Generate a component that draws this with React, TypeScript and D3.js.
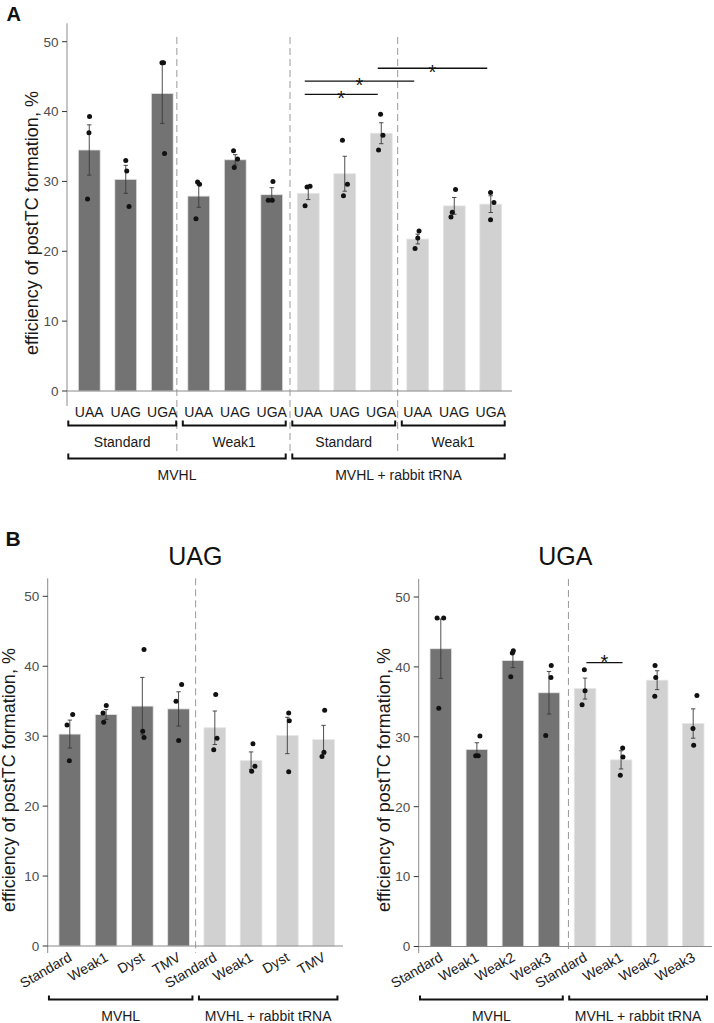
import React from "react";
import * as d3 from "d3";

// ---------------- Panel A data ----------------
const aCodons = ["UAA", "UAG", "UGA", "UAA", "UAG", "UGA", "UAA", "UAG", "UGA", "UAA", "UAG", "UGA"];
const aMeans = [34.5, 30.3, 42.6, 27.9, 33.1, 28.1, 28.3, 31.1, 36.9, 21.75, 26.5, 26.75];
const aSE = [3.6, 2.0, 4.3, 1.6, 0.73, 1.0, 0.9, 2.5, 1.5, 0.7, 1.2, 1.2];
const aPoints = [
  [39.3, 36.95, 27.5], [33.0, 31.5, 26.4], [47.0, 47.0, 34.0],
  [29.9, 29.6, 24.65], [34.4, 33.2, 32.0], [30.0, 27.3, 27.3],
  [29.2, 29.3, 26.5], [35.9, 29.6, 27.95], [39.6, 36.6, 34.5],
  [22.9, 21.9, 20.4], [28.85, 25.6, 24.9], [28.4, 27.0, 24.5],
];
const aJitter = [
  [0.3, -0.3, -1.7], [0, 1, 3.3], [-0.3, 1.3, 2.3],
  [-1.2, 0.8, -2.8], [-1.7, 2.3, -1], [1.2, -3.5, 0.5],
  [-1.2, 1.8, -3.2], [-2.3, 2.7, -1.3], [-0.7, 1.7, -2.7],
  [1.3, 0, -2.7], [1.3, -2, -3.3], [-0.2, 3.2, -0.2],
];
const aTreatment = [0, 0, 0, 0, 0, 0, 1, 1, 1, 1, 1, 1];
const aContexts = [
  { label: "Standard", from: 0, to: 2 },
  { label: "Weak1", from: 3, to: 5 },
  { label: "Standard", from: 6, to: 8 },
  { label: "Weak1", from: 9, to: 11 },
];
const aSystems = [
  { label: "MVHL", from: 0, to: 5 },
  { label: "MVHL + rabbit tRNA", from: 6, to: 11 },
];
const aSeparators = [2.4, 5.5, 8.45];
const aSignif = [
  { from: 6, to: 8, y: 42.45 },
  { from: 6, to: 9, y: 44.35 },
  { from: 8, to: 11, y: 46.2 },
];

// ---------------- Panel B (UAG) data ----------------
const uagLabels = ["Standard", "Weak1", "Dyst", "TMV", "Standard", "Weak1", "Dyst", "TMV"];
const uagMeans = [30.3, 33.1, 34.3, 33.9, 31.2, 26.5, 30.1, 29.5];
const uagSE = [2.0, 0.7, 4.1, 2.45, 2.4, 1.25, 2.6, 2.05];
const uagPoints = [
  [33.1, 31.6, 26.5], [34.4, 33.3, 32.0], [42.4, 30.7, 29.8], [37.4, 35.0, 29.4],
  [35.95, 29.7, 28.05], [28.9, 25.7, 25.0], [33.3, 32.2, 24.9], [33.7, 27.7, 27.1],
];
const uagJitter = [
  [2.9, -2.8, -0.5], [0.2, -3.1, -2.4], [1.7, 0.4, 1.7], [3.1, -2.6, 0.1],
  [0.9, 2.2, -1.1], [1.9, 3.9, 0.6], [1.4, 2, 1.4], [1.1, 0.4, -1.6],
];
const uagSeparators = [3.47];

// ---------------- Panel B (UGA) data ----------------
const ugaLabels = ["Standard", "Weak1", "Weak2", "Weak3", "Standard", "Weak1", "Weak2", "Weak3"];
const ugaMeans = [42.6, 28.2, 40.9, 36.3, 36.9, 26.7, 38.1, 31.9];
const ugaSE = [4.25, 0.95, 1.0, 3.05, 1.5, 1.3, 1.35, 2.1];
const ugaPoints = [
  [47.0, 47.0, 34.1], [30.1, 27.3, 27.3], [42.3, 42.0, 38.6], [40.2, 38.5, 30.2],
  [39.6, 36.6, 34.6], [28.4, 27.1, 24.5], [40.2, 38.5, 35.8], [35.9, 31.2, 28.8],
];
const ugaJitter = [
  [-3.8, 2.9, -2.1], [3.1, -1.2, 1.4], [0.4, -0.6, -2.2], [2.3, 2, -3.3],
  [-0.7, 0, -3], [1.6, 1.9, -0.8], [-2.1, -1.4, -2.4], [3.8, -0.2, 0.5],
];
const ugaSeparators = [3.54];
const ugaSignif = [{ from: 4, to: 5, y: 40.6 }];

const bTreatment = [0, 0, 0, 0, 1, 1, 1, 1];
const bSystems = [
  { label: "MVHL", from: 0, to: 3 },
  { label: "MVHL + rabbit tRNA", from: 4, to: 7 },
];

const yTicks = [0, 10, 20, 30, 40, 50];
const yTitle = "efficiency of postTC formation, %";

// ---------------- styles ----------------
const FONT = "'Liberation Sans', Arial, Helvetica, sans-serif";
const DARK = "#737373";
const LIGHT = "#d1d1d1";
const AXIS = "#8a8a8a";

type Group = { label: string; from: number; to: number };
type Sig = { from: number; to: number; y: number };

interface Layout {
  axisX: number;
  xRange: [number, number];
  axisEnd: number;
  y0: number;
  y50: number;
  axisTop: number;
  axisBottom: number;
  dashTop: number;
  dashBottom: number;
  titleX: number;
  titleY: number;
  sigShift: number;
  starDy: number;
}

function makeX(n: number, range: [number, number]) {
  return d3
    .scaleBand<number>()
    .domain(d3.range(n))
    .range(range)
    .paddingInner(0.4)
    .paddingOuter(0.2);
}

function Panel(props: {
  L: Layout;
  means: number[];
  se: number[];
  points: number[][];
  jitter: number[][];
  treatment: number[];
  separators: number[];
  signif: Sig[];
}) {
  const { L, means, se, points, jitter, treatment, separators, signif } = props;
  const x = makeX(means.length, L.xRange);
  const y = d3.scaleLinear().domain([0, 50]).range([L.y0, L.y50]);
  const bw = x.bandwidth();
  const step = x.step();
  const c = (i: number) => (x(i) as number) + bw / 2;
  const sepX = (v: number) => c(0) + v * step;
  return (
    <g>
      {separators.map((s, i) => (
        <line
          key={"sep" + i}
          x1={sepX(s)}
          x2={sepX(s)}
          y1={L.dashTop}
          y2={L.dashBottom}
          stroke="#9a9a9a"
          strokeWidth={1}
          strokeDasharray="7,4"
        />
      ))}
      {means.map((m, i) => (
        <rect
          key={"bar" + i}
          x={x(i)}
          y={y(m)}
          width={bw}
          height={y(0) - y(m)}
          fill={treatment[i] === 0 ? DARK : LIGHT}
          stroke="#e6e6e6"
          strokeWidth={0.8}
        />
      ))}
      {means.map((m, i) => (
        <g key={"err" + i} stroke="#3a3a3a" strokeWidth={0.9}>
          <line x1={c(i)} x2={c(i)} y1={y(m + se[i])} y2={y(m - se[i])} />
          <line x1={c(i) - 2.2} x2={c(i) + 2.2} y1={y(m + se[i])} y2={y(m + se[i])} />
          <line x1={c(i) - 2.2} x2={c(i) + 2.2} y1={y(m - se[i])} y2={y(m - se[i])} />
        </g>
      ))}
      {points.map((pts, i) =>
        pts.map((v, k) => (
          <circle
            key={"pt" + i + "_" + k}
            cx={c(i) + (jitter[i][k] * bw) / 22}
            cy={y(v)}
            r={2.5}
            fill="#111"
          />
        ))
      )}
      {signif.map((s, i) => {
        const x1 = c(s.from) + L.sigShift;
        const x2 = c(s.to) + L.sigShift;
        return (
          <g key={"sig" + i}>
            <line x1={x1} x2={x2} y1={y(s.y)} y2={y(s.y)} stroke="#111" strokeWidth={1.3} />
            <text
              x={(x1 + x2) / 2}
              y={y(s.y) + L.starDy}
              textAnchor="middle"
              fontSize={20}
              fill="#111"
            >
              *
            </text>
          </g>
        );
      })}
      <line x1={L.axisX} x2={L.axisX} y1={L.axisTop} y2={L.axisBottom} stroke={AXIS} strokeWidth={1} />
      <line x1={L.axisX} x2={L.axisEnd} y1={y(0)} y2={y(0)} stroke={AXIS} strokeWidth={1} />
      {yTicks.map((t) => (
        <g key={"t" + t}>
          <line x1={L.axisX - 5} x2={L.axisX} y1={y(t)} y2={y(t)} stroke="#333" strokeWidth={1} />
          <text
            x={L.axisX - 8.5}
            y={y(t)}
            dy="0.36em"
            textAnchor="end"
            fontSize={13.5}
            fill="#4d4d4d"
          >
            {t}
          </text>
        </g>
      ))}
      <text
        transform={`translate(${L.titleX},${L.titleY}) rotate(-90)`}
        textAnchor="middle"
        fontSize={18}
        fill="#1a1a1a"
      >
        {yTitle}
      </text>
    </g>
  );
}

function Bracket(props: { x1: number; x2: number; y: number; tip: number; label: string; ty: number }) {
  const { x1, x2, y, tip, label, ty } = props;
  return (
    <g>
      <path
        d={`M${x1},${y - tip}L${x1},${y}L${x2},${y}L${x2},${y - tip}`}
        fill="none"
        stroke="#111"
        strokeWidth={2}
      />
      <text x={(x1 + x2) / 2} y={ty} textAnchor="middle" fontSize={14} fill="#1a1a1a">
        {label}
      </text>
    </g>
  );
}

function groupExtent(x: d3.ScaleBand<number>, g: Group) {
  const bw = x.bandwidth();
  const a = (x(g.from) as number) - (g.from === 0 ? 10 : 5);
  const b = (x(g.to) as number) + bw + 3;
  return [a, b];
}

const LA: Layout = {
  axisX: 67,
  xRange: [71, 509],
  axisEnd: 512,
  y0: 391,
  y50: 41.7,
  axisTop: 23.3,
  axisBottom: 406,
  dashTop: 37,
  dashBottom: 455,
  titleX: 37.5,
  titleY: 223,
  sigShift: -3.5,
  starDy: 11,
};

const LB1: Layout = {
  axisX: 47.7,
  xRange: [51.7, 341.7],
  axisEnd: 343,
  y0: 946,
  y50: 596.3,
  axisTop: 578.3,
  axisBottom: 953,
  dashTop: 578.3,
  dashBottom: 953,
  titleX: 15,
  titleY: 780,
  sigShift: 0,
  starDy: 6.5,
};

const LB2: Layout = {
  axisX: 418.7,
  xRange: [422.8, 711.2],
  axisEnd: 712,
  y0: 946.5,
  y50: 597,
  axisTop: 579,
  axisBottom: 953,
  dashTop: 579,
  dashBottom: 953,
  titleX: 390,
  titleY: 780,
  sigShift: 1.4,
  starDy: 6.5,
};

function BLabels(props: { L: Layout; labels: string[] }) {
  const { L, labels } = props;
  const x = makeX(labels.length, L.xRange);
  const bw = x.bandwidth();
  return (
    <g>
      {labels.map((lab, i) => (
        <text
          key={"bl" + i}
          transform={`translate(${(x(i) as number) + bw / 2 + 3},${960}) rotate(-30)`}
          textAnchor="end"
          fontSize={14}
          fill="#1a1a1a"
        >
          {lab}
        </text>
      ))}
      {bSystems.map((g, i) => {
        const [a, b] = groupExtent(x, g);
        return <Bracket key={"bs" + i} x1={a} x2={b} y={999.5} tip={4} label={g.label} ty={1021} />;
      })}
    </g>
  );
}

function ALabels() {
  const x = makeX(aCodons.length, LA.xRange);
  const bw = x.bandwidth();
  return (
    <g>
      {aCodons.map((lab, i) => (
        <text
          key={"al" + i}
          x={(x(i) as number) + bw / 2}
          y={416.7}
          textAnchor="middle"
          fontSize={14}
          fill="#1a1a1a"
        >
          {lab}
        </text>
      ))}
      {aContexts.map((g, i) => {
        const [a, b] = groupExtent(x, g);
        return <Bracket key={"ac" + i} x1={a} x2={b} y={425.5} tip={5} label={g.label} ty={446.7} />;
      })}
      {aSystems.map((g, i) => {
        const [a, b] = groupExtent(x, g);
        return <Bracket key={"as" + i} x1={a} x2={b} y={458.5} tip={5} label={g.label} ty={480} />;
      })}
    </g>
  );
}

export default function App() {
  return (
    <div style={{ position: "absolute", left: 0, top: 0 }}>
      <svg width={714} height={1023} viewBox="0 0 714 1023" style={{ display: "block", fontFamily: FONT }}>
        <rect width={714} height={1023} fill="#fff" />
        <text x={6.5} y={20.7} fontSize={20} fontWeight="bold" fill="#111">
          A
        </text>
        <Panel
          L={LA}
          means={aMeans}
          se={aSE}
          points={aPoints}
          jitter={aJitter}
          treatment={aTreatment}
          separators={aSeparators}
          signif={aSignif}
        />
        <ALabels />

        <text x={5.5} y={545.7} fontSize={21} fontWeight="bold" fill="#111">
          B
        </text>
        <text x={(LB1.axisX + LB1.axisEnd) / 2} y={565} textAnchor="middle" fontSize={25} fill="#111">
          UAG
        </text>
        <text x={(LB2.axisX + LB2.axisEnd) / 2} y={565} textAnchor="middle" fontSize={25} fill="#111">
          UGA
        </text>
        <Panel
          L={LB1}
          means={uagMeans}
          se={uagSE}
          points={uagPoints}
          jitter={uagJitter}
          treatment={bTreatment}
          separators={uagSeparators}
          signif={[]}
        />
        <BLabels L={LB1} labels={uagLabels} />
        <Panel
          L={LB2}
          means={ugaMeans}
          se={ugaSE}
          points={ugaPoints}
          jitter={ugaJitter}
          treatment={bTreatment}
          separators={ugaSeparators}
          signif={ugaSignif}
        />
        <BLabels L={LB2} labels={ugaLabels} />
      </svg>
    </div>
  );
}
